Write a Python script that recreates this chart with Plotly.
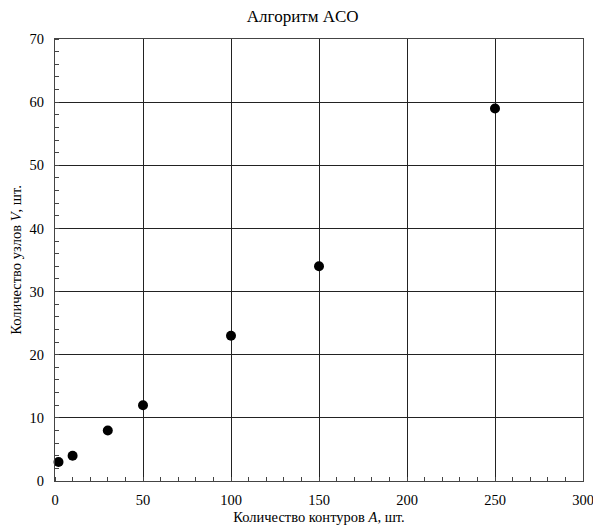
import plotly.graph_objects as go

contours = [2, 10, 30, 50, 100, 150, 250]
nodes = [3, 4, 8, 12, 23, 34, 59]

x_ticks = [0, 50, 100, 150, 200, 250, 300]
y_ticks = [0, 10, 20, 30, 40, 50, 60, 70]

font = "Liberation Serif, Times New Roman, serif"

fig = go.Figure()
fig.add_trace(go.Scatter(
    x=contours, y=nodes, mode="markers",
    marker=dict(color="black", size=10),
    showlegend=False, cliponaxis=False,
))

axis_common = dict(
    showline=True, linecolor="#444", linewidth=1, mirror=True,
    showgrid=True, gridcolor="#222", gridwidth=1,
    zeroline=False, automargin=False,
    ticks="", tickfont=dict(family=font, size=14.5, color="black"),
    title_font=dict(family=font, size=14.5, color="black"),
)

# page body has an 8px margin, so the figure is sized to fit the 601x526 window
fig.update_layout(
    width=593, height=518,
    margin=dict(l=47, r=18, t=31, b=45),
    paper_bgcolor="white", plot_bgcolor="white",
    font=dict(family=font, color="black"),
    title=dict(text="Алгоритм ACO", x=0.497, xanchor="center", y=0.985, yanchor="middle",
               font=dict(family=font, size=17, color="black")),
    xaxis=dict(range=[0, 300], tickvals=x_ticks, ticklabelstandoff=6,
               title=dict(text="Количество контуров <i>A</i>, шт.", standoff=4),
               minor=dict(dtick=10, ticks="inside", ticklen=4, tickcolor="#444", showgrid=False),
               **axis_common),
    yaxis=dict(range=[0, 70], tickvals=y_ticks, ticklabelstandoff=7,
               title=dict(text="Количество узлов <i>V</i>, шт.", standoff=4),
               minor=dict(dtick=2, ticks="inside", ticklen=4, tickcolor="#444", showgrid=False),
               **axis_common),
)

fig.write_html("out.html")
